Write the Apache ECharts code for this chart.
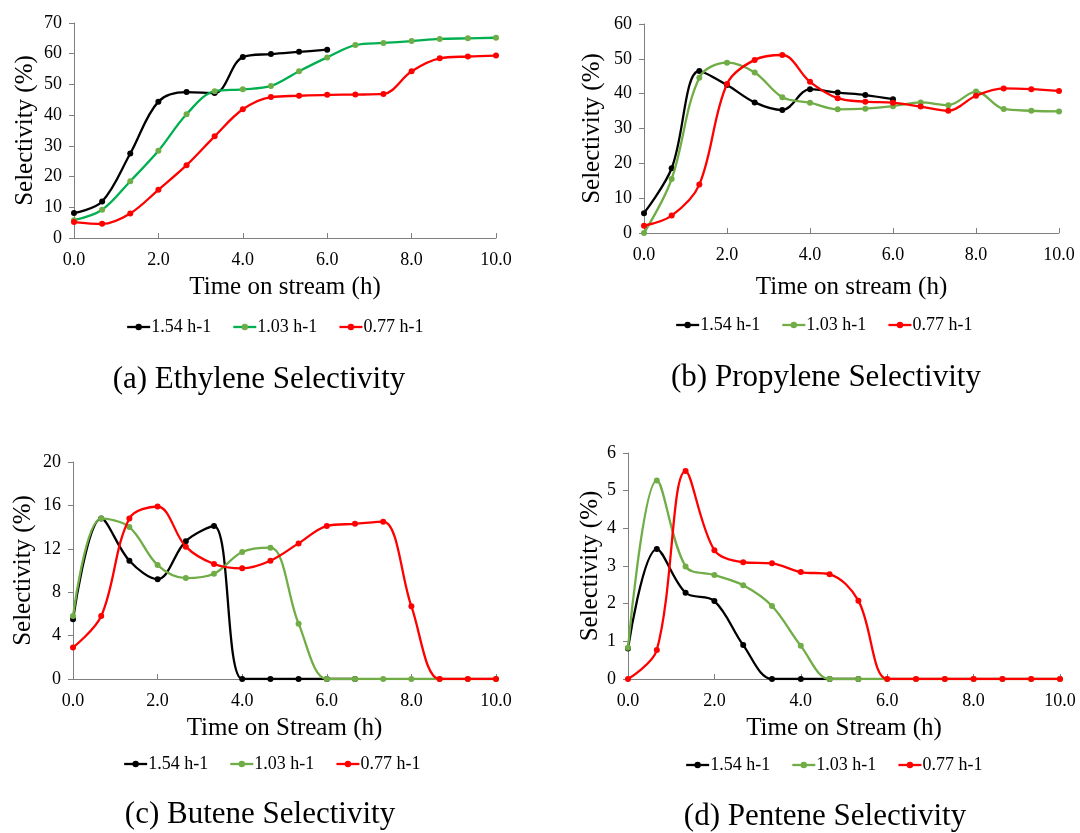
<!DOCTYPE html>
<html>
<head>
<meta charset="utf-8">
<script src="https://cdn.jsdelivr.net/npm/echarts@6/dist/echarts.min.js"></script>
<style>
html,body{margin:0;padding:0;background:#fff;}
#chart{width:1080px;height:833px;}
</style>
</head>
<body>
<div id="chart"></div>
<script>
// Time on stream (h)
const time = [0.0, 0.667, 1.333, 2.0, 2.667, 3.333, 4.0, 4.667, 5.333, 6.0, 6.667, 7.333, 8.0, 8.667, 9.333, 10.0];
const seriesNames = ['1.54 h-1', '1.03 h-1', '0.77 h-1'];
const xTicks = [0, 2, 4, 6, 8, 10];

// (a) Ethylene selectivity (%)
const ethylene154 = [8.1, 11.9, 27.5, 44.4, 47.5, 47.2, 58.9, 59.9, 60.6, 61.3];
const ethylene103 = [5.8, 9.2, 18.5, 28.4, 40.3, 47.8, 48.4, 49.5, 54.3, 58.8, 62.8, 63.5, 64.1, 64.8, 65.0, 65.2];
const ethylene077 = [5.2, 4.6, 8.0, 15.7, 23.7, 33.1, 41.9, 45.9, 46.3, 46.6, 46.7, 46.9, 54.3, 58.5, 59.1, 59.4];

// (b) Propylene selectivity (%)
const propylene154 = [5.7, 18.6, 46.5, 42.5, 37.5, 35.3, 41.3, 40.3, 39.6, 38.4];
const propylene103 = [0.0, 15.5, 44.6, 48.9, 46.1, 39.0, 37.4, 35.5, 35.7, 36.4, 37.5, 36.7, 40.6, 35.6, 35.1, 34.9];
const propylene077 = [2.1, 5.0, 13.9, 42.8, 49.7, 51.1, 43.4, 38.7, 37.7, 37.4, 36.3, 35.1, 39.4, 41.5, 41.3, 40.8];

// (c) Butene selectivity (%)
const butene154 = [5.5, 14.8, 10.9, 9.2, 12.7, 14.1, 0, 0, 0, 0, 0];
const butene103 = [5.8, 14.8, 14.0, 10.5, 9.3, 9.7, 11.7, 12.1, 5.1, 0, 0, 0, 0, 0, 0, 0];
const butene077 = [2.9, 5.8, 14.8, 15.9, 12.2, 10.6, 10.2, 10.9, 12.5, 14.1, 14.3, 14.5, 6.7, 0, 0, 0];

// (d) Pentene selectivity (%)
const pentene154 = [0.81, 3.45, 2.29, 2.07, 0.9, 0, 0, 0, 0];
const pentene103 = [0.83, 5.27, 2.99, 2.76, 2.49, 1.94, 0.88, 0, 0, 0, 0, 0, 0, 0, 0, 0];
const pentene077 = [0, 0.77, 5.52, 3.42, 3.1, 3.07, 2.84, 2.78, 2.08, 0, 0, 0, 0, 0, 0, 0];

const captions = ['(a) Ethylene Selectivity', '(b) Propylene Selectivity', '(c) Butene Selectivity', '(d) Pentene Selectivity'];
const xTitles = ['Time on stream (h)', 'Time on stream (h)', 'Time on Stream (h)', 'Time on Stream (h)'];
const yTitle = 'Selectivity (%)';

const panels = [
  {data: [ethylene154, ethylene103, ethylene077], yMax: 70, yInt: 10, grid: {left: 74, top: 23, width: 422, height: 215}, xGap: 37, yGap: 36, greenLine: '#00B050', legend: {left: 126, top: 318}, cap: [259, 380]},
  {data: [propylene154, propylene103, propylene077], yMax: 60, yInt: 10, grid: {left: 644, top: 24, width: 415, height: 209}, xGap: 42, yGap: 39, greenLine: '#70AD47', legend: {left: 675, top: 316}, cap: [826, 378]},
  {data: [butene154, butene103, butene077], yMax: 20, yInt: 4, grid: {left: 73, top: 462, width: 423, height: 217}, xGap: 37, yGap: 37, greenLine: '#70AD47', legend: {left: 123, top: 755}, cap: [260, 815]},
  {data: [pentene154, pentene103, pentene077], yMax: 6, yInt: 1, grid: {left: 628, top: 453, width: 432, height: 226}, xGap: 37, yGap: 25, greenLine: '#70AD47', legend: {left: 685, top: 756}, cap: [825, 817]}
];

const FONT = '"Liberation Serif", "Times New Roman", serif';
const axisGray = '#7f7f7f';

const option = {
  animation: false,
  backgroundColor: '#ffffff',
  grid: [], xAxis: [], yAxis: [], series: [], legend: [], graphic: []
};

panels.forEach((p, i) => {
  option.grid.push(Object.assign({containLabel: false}, p.grid));
  option.xAxis.push({
    type: 'value', gridIndex: i, min: 0, max: 10, interval: 2,
    name: xTitles[i], nameLocation: 'middle', nameGap: p.xGap,
    nameTextStyle: {fontFamily: FONT, fontSize: 25, color: '#000'},
    axisLine: {show: true, lineStyle: {color: axisGray, width: 1}},
    axisTick: {show: true, inside: true, length: 5, lineStyle: {color: axisGray}},
    axisLabel: {fontFamily: FONT, fontSize: 18, color: '#000', margin: 13, formatter: v => v.toFixed(1)},
    splitLine: {show: false}
  });
  option.yAxis.push({
    type: 'value', gridIndex: i, min: 0, max: p.yMax, interval: p.yInt,
    name: yTitle, nameLocation: 'middle', nameGap: p.yGap, nameRotate: 90,
    nameTextStyle: {fontFamily: FONT, fontSize: 25, color: '#000'},
    axisLine: {show: true, lineStyle: {color: axisGray, width: 1}},
    axisTick: {show: true, inside: false, length: 5, lineStyle: {color: axisGray}},
    axisLabel: {fontFamily: FONT, fontSize: 18, color: '#000', margin: 12},
    splitLine: {show: false}
  });
  const lineColors = ['#000000', p.greenLine, '#FF0000'];
  const markColors = ['#000000', '#70AD47', '#FF0000'];
  p.data.forEach((vals, s) => {
    option.series.push({
      name: seriesNames[s], type: 'line', xAxisIndex: i, yAxisIndex: i,
      data: vals.map((v, k) => [time[k], v]),
      smooth: 0.35,
      symbol: 'circle', symbolSize: 6,
      lineStyle: {color: lineColors[s], width: 2.3},
      itemStyle: {color: markColors[s]},
      z: 2 + s
    });
  });
  option.legend.push({
    left: p.legend.left, top: p.legend.top, orient: 'horizontal', padding: 0,
    itemWidth: 23, itemHeight: 8, itemGap: 21,
    textStyle: {fontFamily: FONT, fontSize: 18, color: '#000', padding: [0, 0, 0, -4]},
    data: seriesNames.map((n, s) => ({
      name: n,
      itemStyle: {color: markColors[s]},
      lineStyle: {color: lineColors[s], width: 2.3}
    }))
  });
  option.graphic.push({
    type: 'text', x: p.cap[0], y: p.cap[1],
    style: {text: captions[i], font: '31px ' + FONT, fill: '#000', align: 'center', verticalAlign: 'middle'}
  });
});

const chart = echarts.init(document.getElementById('chart'), null, {renderer: 'canvas'});
chart.setOption(option);
</script>
</body>
</html>
